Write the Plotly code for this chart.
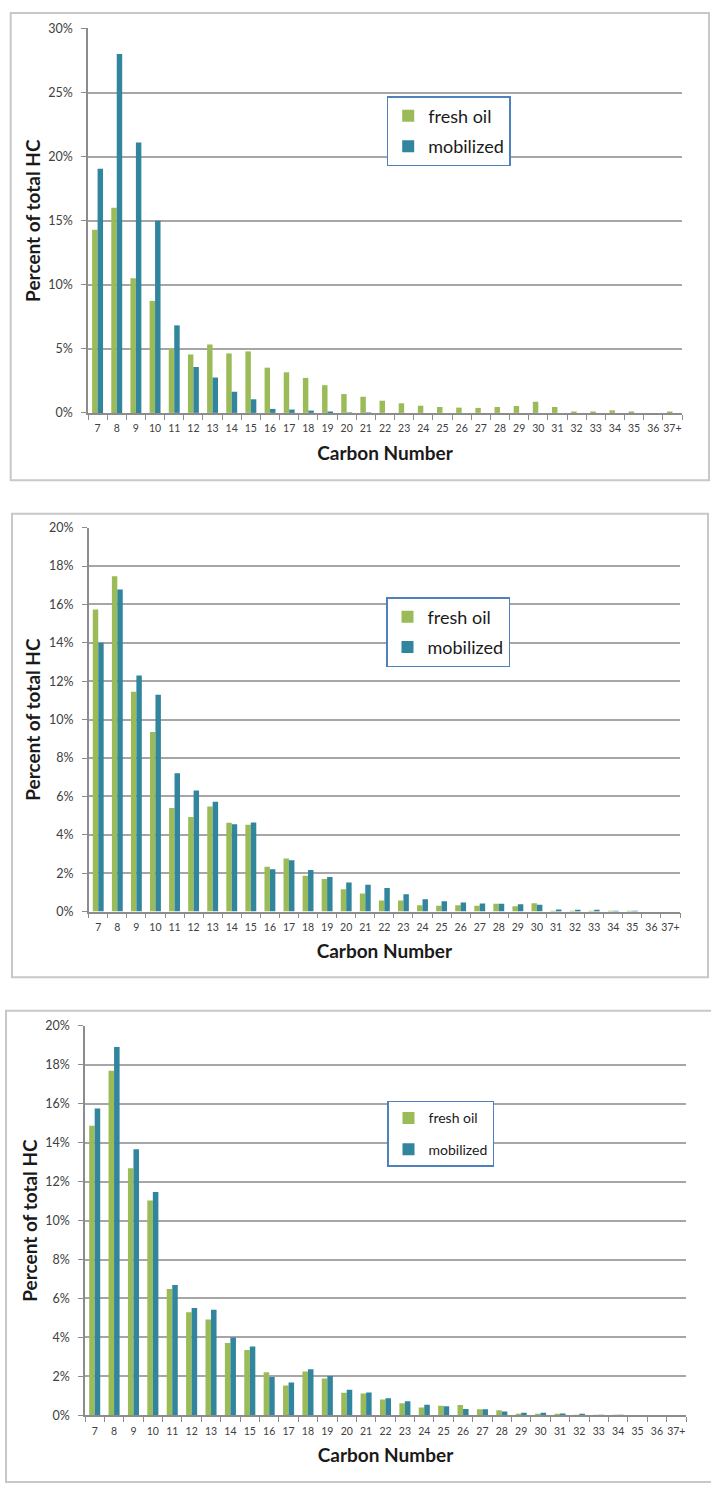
import plotly.graph_objects as go

# Carbon-number distribution of hydrocarbons: fresh oil vs. mobilized fraction
carbon = [str(c) for c in range(7, 37)] + ["37+"]

fresh_a = [14.3, 16.0, 10.5, 8.74, 5.0, 4.56, 5.34, 4.64, 4.8, 3.53, 3.17, 2.73, 2.16, 1.47,
           1.26, 0.95, 0.75, 0.56, 0.46, 0.41, 0.39, 0.46, 0.54, 0.87, 0.46, 0.08, 0.05, 0.2,
           0.1, 0.0, 0.05]
mobil_a = [19.05, 28.0, 21.1, 15.0, 6.83, 3.58, 2.76, 1.65, 1.06, 0.31, 0.26, 0.18, 0.1, 0.03,
           0.02, 0, 0, 0, 0, 0, 0, 0, 0, 0, 0, 0, 0, 0, 0, 0, 0]

fresh_b = [15.74, 17.47, 11.45, 9.36, 5.4, 4.93, 5.47, 4.62, 4.52, 2.33, 2.76, 1.86, 1.69, 1.16,
           0.94, 0.57, 0.57, 0.33, 0.3, 0.33, 0.3, 0.4, 0.28, 0.43, 0.03, 0.03, 0.02, 0.02,
           0.02, 0.0, 0.0]
mobil_b = [14.0, 16.78, 12.3, 11.3, 7.2, 6.31, 5.72, 4.55, 4.64, 2.2, 2.67, 2.17, 1.8, 1.51,
           1.39, 1.23, 0.9, 0.64, 0.54, 0.47, 0.42, 0.4, 0.38, 0.35, 0.1, 0.09, 0.07, 0.01,
           0.01, 0.0, 0.0]

fresh_c = [14.86, 17.68, 12.68, 11.03, 6.49, 5.29, 4.92, 3.71, 3.36, 2.22, 1.53, 2.25, 1.9, 1.16,
           1.12, 0.81, 0.62, 0.4, 0.5, 0.53, 0.31, 0.26, 0.07, 0.07, 0.05, 0.03, 0.02, 0.02,
           0.0, 0.0, 0.0]
mobil_c = [15.75, 18.9, 13.66, 11.46, 6.69, 5.51, 5.42, 4.0, 3.54, 1.97, 1.69, 2.37, 2.02, 1.31,
           1.17, 0.88, 0.72, 0.55, 0.47, 0.33, 0.31, 0.2, 0.14, 0.14, 0.1, 0.05, 0.03, 0.02,
           0.0, 0.0, 0.0]

y_max = [30, 20, 20]
y_step = [5, 2, 2]
series_names = ["fresh oil", "mobilized"]

GREEN = "#9bbb59"
TEAL = "#31859c"
GRID = "#a6a6a6"
AXIS = "#8c8c8c"
FONT = "Lato"

W, H = 711, 1492


def px_x(v):
    return v / W


def px_y(v):
    return 1 - v / H


# plot-area rectangles (left, right, top, bottom) and outer frames, in pixels
areas = [(88, 682, 20.7, 409), (88.7, 680, 525, 912.7), (85, 686, 1028, 1421.7)]
frames = [(10.7, 709, 5, 477), (12, 708, 511, 979), (6, 716, 1013, 1489)]
legend_pos = [(386.7, 89), (386, 595), (387, 1104)]
legend_font = [18, 18, 14]
legend_gap = [4, 4, 10]

panels = [(fresh_a, mobil_a), (fresh_b, mobil_b), (fresh_c, mobil_c)]

fig = go.Figure()
layout = dict(
    width=W, height=H, margin=dict(l=0, r=0, t=0, b=0),
    paper_bgcolor="white", plot_bgcolor="white",
    barmode="group", bargap=0.43, bargroupgap=0.0,
    font=dict(family=FONT, color="#404040"),
    shapes=[],
)

for i, (fr, mo) in enumerate(panels):
    sfx = "" if i == 0 else str(i + 1)
    leg = "legend" if i == 0 else f"legend{i + 1}"
    for name, vals, col in ((series_names[0], fr, GREEN), (series_names[1], mo, TEAL)):
        fig.add_trace(go.Bar(
            x=carbon, y=vals, name=name, marker=dict(color=col, line=dict(width=0)),
            xaxis="x" + sfx, yaxis="y" + sfx, legend=leg, legendgroup=f"{name}{i}",
        ))
    l, r, t, b = areas[i]
    layout["xaxis" + sfx] = dict(
        domain=[px_x(l), px_x(r)], anchor="y" + sfx, type="category",
        categoryorder="array", categoryarray=carbon,
        showline=True, linecolor=AXIS, linewidth=1.5,
        ticks="outside", tickson="boundaries", ticklen=5, tickcolor=AXIS,
        tickangle=0,
        tickfont=dict(size=10.5, color="#404040", family=FONT),
        ticklabelstandoff=5,
        title=dict(text="<b>Carbon Number</b>", font=dict(size=19, color="#1a1a1a", family=FONT),
                   standoff=13),
        showgrid=False, fixedrange=True,
    )
    layout["yaxis" + sfx] = dict(
        domain=[px_y(b), px_y(t)], anchor="x" + sfx,
        range=[0, y_max[i]], dtick=y_step[i], tick0=0, ticksuffix="%",
        showline=True, linecolor=AXIS, linewidth=1.5,
        ticks="outside", ticklen=5, tickcolor=AXIS,
        tickfont=dict(size=12.5, color="#404040", family=FONT),
        ticklabelstandoff=6,
        showgrid=True, gridcolor=GRID, gridwidth=1.5,
        zeroline=False,
        title=dict(text="<b>Percent of total HC</b>", font=dict(size=19, color="#1a1a1a", family=FONT),
                   standoff=3),
        fixedrange=True,
    )
    lx, ly = legend_pos[i]
    layout[leg] = dict(
        x=px_x(lx), y=px_y(ly), xanchor="left", yanchor="top",
        bgcolor="white", bordercolor="#4f81bd", borderwidth=1.5,
        font=dict(size=legend_font[i], color="#1a1a1a", family=FONT),
        traceorder="grouped", tracegroupgap=legend_gap[i],
        itemclick=False, itemdoubleclick=False,
    )
    fl, fr_, ft, fb = frames[i]
    layout["shapes"].append(dict(
        type="rect", xref="paper", yref="paper",
        x0=px_x(fl), x1=px_x(fr_), y0=px_y(fb), y1=px_y(ft),
        line=dict(color="#c8c8c8", width=2), fillcolor="rgba(0,0,0,0)", layer="below",
    ))

fig.update_layout(**layout)
fig.write_html("out.html")
